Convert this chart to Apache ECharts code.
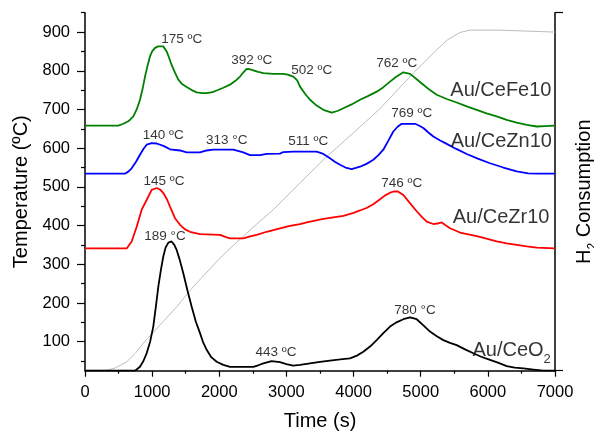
<!DOCTYPE html>
<html>
<head>
<meta charset="utf-8">
<script src="https://cdn.jsdelivr.net/npm/echarts@6/dist/echarts.min.js"></script>
<style>html,body{margin:0;padding:0;background:#fff;}#c{width:594px;height:432px;}</style>
</head>
<body>
<div id="c"></div>
<script>
// ---- Data (time s, value on temperature scale) ----
const ceFe10 = [[0,658],[497,658],[571,663],[650,670],[720,682],[770,700],[819,725],[860,755],[894,785],[930,812],[968,837],[1000,850],[1043,859],[1090,863],[1165,863],[1216,850],[1250,835],[1290,815],[1340,795],[1390,777],[1450,765],[1514,758],[1590,750],[1663,744],[1750,742],[1812,742],[1900,745],[1961,749],[2060,756],[2160,764],[2240,774],[2309,785],[2360,796],[2408,805],[2450,804],[2507,801],[2580,797],[2656,794],[2800,792],[2953,792],[3020,790],[3103,785],[3160,775],[3202,759],[3280,740],[3351,725],[3450,710],[3550,699],[3674,692],[3760,696],[3848,703],[3970,713],[4096,725],[4220,735],[4344,746],[4440,757],[4543,772],[4640,785],[4741,796],[4841,792],[4940,778],[5039,764],[5138,750],[5238,738],[5387,727],[5536,718],[5685,708],[5834,699],[5980,690],[6132,682],[6280,673],[6430,666],[6580,660],[6728,656],[6850,657],[7000,658]];
const ceZn10 = [[0,534],[596,534],[650,540],[695,548],[760,565],[819,583],[870,598],[918,609],[993,613],[1067,612],[1167,606],[1266,597],[1415,594],[1514,589],[1713,589],[1812,594],[1911,596],[2209,596],[2358,589],[2457,582],[2607,582],[2706,585],[2904,586],[2953,590],[3103,591],[3450,591],[3550,585],[3649,574],[3720,565],[3798,557],[3880,550],[3972,546],[4096,552],[4200,560],[4294,570],[4370,582],[4443,596],[4520,620],[4592,643],[4660,656],[4717,663],[4915,663],[4980,658],[5039,652],[5110,641],[5188,630],[5290,620],[5387,611],[5530,598],[5685,585],[5850,573],[6032,561],[6230,550],[6430,540],[6600,535],[6728,534],[7000,534]];
const ceZr10 = [[0,341],[621,341],[695,359],[770,397],[844,441],[918,466],[993,492],[1067,497],[1120,493],[1167,484],[1220,468],[1266,449],[1340,419],[1415,402],[1490,390],[1564,384],[1713,378],[2011,376],[2100,370],[2160,367],[2358,367],[2460,372],[2557,376],[2706,384],[2904,393],[3053,399],[3202,404],[3301,408],[3550,417],[3848,425],[4000,433],[4096,439],[4200,446],[4294,455],[4394,468],[4470,478],[4543,485],[4600,488],[4660,488],[4741,479],[4840,458],[4940,437],[5020,422],[5089,410],[5188,404],[5270,406],[5312,408],[5360,402],[5436,393],[5585,382],[5834,373],[5980,366],[6132,359],[6280,354],[6430,350],[6580,346],[6728,343],[7000,341]];
const ceO2 = [[0,25],[745,25],[819,35],[870,50],[918,70],[970,100],[1017,139],[1055,190],[1092,242],[1130,285],[1166,320],[1200,343],[1241,356],[1265,360],[1290,359],[1330,350],[1365,337],[1410,312],[1464,277],[1525,233],[1589,190],[1650,152],[1713,122],[1760,98],[1812,79],[1880,60],[1961,48],[2060,40],[2160,35],[2507,35],[2580,39],[2656,44],[2780,50],[2904,47],[3000,42],[3100,38],[3202,40],[3351,44],[3500,48],[3649,51],[3800,54],[3947,57],[4050,64],[4145,74],[4250,88],[4344,104],[4443,122],[4543,139],[4640,150],[4741,158],[4841,163],[4940,158],[5040,142],[5138,126],[5240,114],[5337,104],[5436,97],[5536,91],[5660,80],[5784,70],[5900,61],[6032,53],[6160,45],[6281,37],[6400,33],[6529,31],[6680,28],[6827,25],[7000,25]];
const tempRamp = [[0,26],[320,26],[450,32],[621,48],[750,70],[869,96],[1117,143],[1365,190],[1613,242],[2011,316],[2160,341],[2500,395],[2804,441],[3200,510],[3600,578],[4000,640],[4394,702],[4890,794],[5238,854],[5400,880],[5585,899],[5734,905],[6150,905],[6170,900],[7000,900]];

const yMajorTicks = [100,200,300,400,500,600,700,800,900];
const yMinorTicks = [50,150,250,350,450,550,650,750,850,950];

// peak annotations: [time, temperature-scale value, text]
const peakLabels = [
  [1440,882,'175 ºC'],[2483,826,'392 ºC'],[3376,801,'502 ºC'],[4643,820,'762 ºC'],
  [1166,632,'140 ºC'],[2110,620,'313 °C'],[3326,617,'511 ºC'],[4866,691,'769 ºC'],
  [1177,514,'145 ºC'],[4717,510,'746 ºC'],
  [1192,372,'189 °C'],[2845,73,'443 ºC'],[4915,182,'780 °C']
];
const seriesLabels = [
  [6194,749,'{a|Au/CeFe10}'],[6200,617,'{a|Au/CeZn10}'],[6196,421,'{a|Au/CeZr10}'],[6354,78,'{a|Au/CeO}{s|2}']
];

const FONT = "'Liberation Sans', Arial, sans-serif";
const chart = echarts.init(document.getElementById('c'), null, {renderer:'canvas'});

function lineSeries(name, data, color, width) {
  return {name, type:'line', data, xAxisIndex:0, yAxisIndex:0, showSymbol:false, symbol:'none',
    lineStyle:{color, width}, itemStyle:{color}, animation:false, silent:true, z: 3};
}

chart.setOption({
  animation:false,
  backgroundColor:'#fff',
  textStyle:{fontFamily:FONT},
  grid:{left:85, right:39, top:12.7, bottom:61.3, containLabel:false, outerBoundsMode:'none'},
  xAxis:[{
    type:'value', min:0, max:7000, interval:1000, position:'bottom',
    name:'Time (s)', nameLocation:'middle', nameGap:41,
    nameTextStyle:{fontSize:20, color:'#000', fontFamily:FONT},
    axisLine:{show:true, onZero:false, lineStyle:{color:'#000', width:1.5}},
    axisTick:{show:true, inside:false, length:6, lineStyle:{color:'#000', width:1.2}},
    minorTick:{show:true, splitNumber:2, length:3, lineStyle:{color:'#000', width:1.2}},
    axisLabel:{show:true, fontSize:16.5, color:'#000', margin:13, fontFamily:FONT, formatter: v => String(v)},
    splitLine:{show:false}
  }],
  yAxis:[{
    type:'value', min:25, max:950, position:'left',
    name:'Temperature (ºC)', nameLocation:'middle', nameGap:50,
    nameTextStyle:{fontSize:20, color:'#000', fontFamily:FONT},
    axisLine:{show:true, onZero:false, lineStyle:{color:'#000', width:1.5}},
    axisTick:{show:true, inside:false, length:8, customValues:yMajorTicks, lineStyle:{color:'#000', width:1.2}},
    axisLabel:{show:true, customValues:yMajorTicks, fontSize:16.5, color:'#000', margin:15, fontFamily:FONT, formatter: v => String(v)},
    splitLine:{show:false}
  },{
    type:'value', min:25, max:950, position:'left', offset:0,
    axisLine:{show:false},
    axisTick:{show:true, inside:false, length:4, customValues:yMinorTicks, lineStyle:{color:'#000', width:1.2}},
    axisLabel:{show:false},
    splitLine:{show:false}
  },{
    type:'value', min:0, max:1, position:'right',
    name:'{a|H}{s|2}{a| Consumption}', nameLocation:'middle', nameGap:14,
    nameTextStyle:{color:'#000', fontFamily:FONT, rich:{
      a:{fontSize:20, color:'#000', fontFamily:FONT, lineHeight:22},
      s:{fontSize:12, color:'#000', fontFamily:FONT, lineHeight:30, verticalAlign:'bottom'}
    }},
    axisLine:{show:true, onZero:false, lineStyle:{color:'#000', width:1.5}},
    axisTick:{show:true, inside:false, length:8, customValues:[0,1], lineStyle:{color:'#000', width:1.2}},
    axisLabel:{show:false},
    splitLine:{show:false}
  }],
  series:[
    lineSeries('ramp', tempRamp, '#bdbdbd', 1),
    lineSeries('Au/CeO2', ceO2, '#000000', 1.8),
    lineSeries('Au/CeZr10', ceZr10, '#ff0000', 1.8),
    lineSeries('Au/CeZn10', ceZn10, '#0000ff', 1.8),
    lineSeries('Au/CeFe10', ceFe10, '#008000', 1.8),
    {
      type:'scatter', xAxisIndex:0, yAxisIndex:0, symbolSize:1, silent:true, z:5,
      itemStyle:{color:'rgba(0,0,0,0)'},
      data: peakLabels.map(p => ({value:[p[0],p[1]], name:p[2]})),
      label:{show:true, position:'inside', formatter:'{b}', fontSize:13.5, color:'#000', fontFamily:FONT}
    },
    {
      type:'scatter', xAxisIndex:0, yAxisIndex:0, symbolSize:1, silent:true, z:5,
      itemStyle:{color:'rgba(0,0,0,0)'},
      data: seriesLabels.map(p => ({value:[p[0],p[1]], name:p[2]})),
      label:{show:true, position:'inside', formatter:'{b}', color:'#000', fontFamily:FONT,
        rich:{
          a:{fontSize:20, color:'#000', fontFamily:FONT, lineHeight:22},
          s:{fontSize:13, color:'#000', fontFamily:FONT, lineHeight:32, verticalAlign:'bottom'}
        }}
    }
  ]
});
</script>
</body>
</html>
